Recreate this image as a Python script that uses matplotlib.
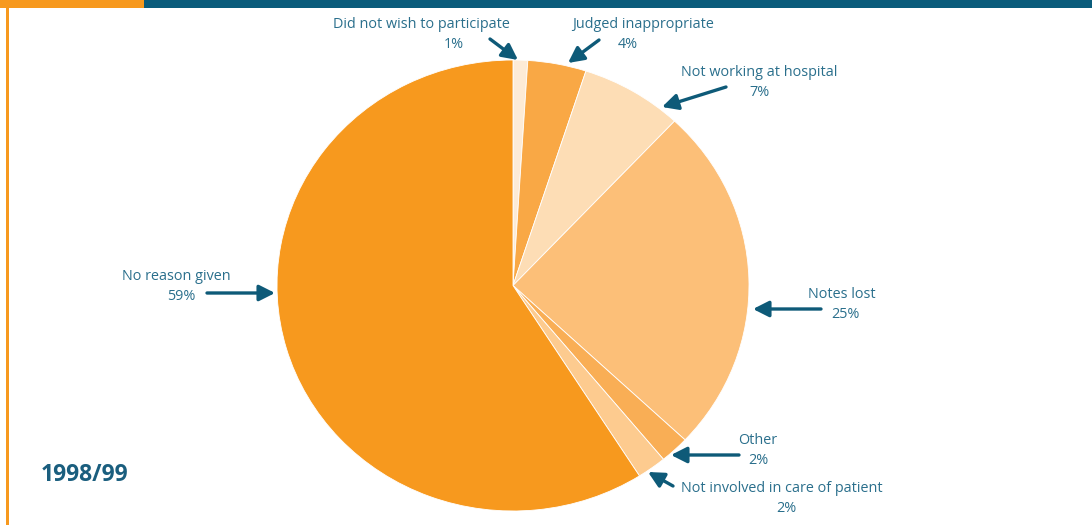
import matplotlib
matplotlib.use("Agg")
import matplotlib.pyplot as plt

plt.rcParams["font.family"] = ["Open Sans", "DejaVu Sans"]

# slices, clockwise from 12 o'clock
categories = [
    "Did not wish to participate",
    "Judged inappropriate",
    "Not working at hospital",
    "Notes lost",
    "Other",
    "Not involved in care of patient",
    "No reason given",
]
percent = [1, 4, 7, 25, 2, 2, 59]
colors = ["#FDEBD6", "#F9A845", "#FDDDB5", "#FCBF78", "#F9AE55", "#FDCB8F", "#F7991E"]

# label placement in pixels: (x, y of name line, x of pct line), arrow tail, arrow head
label_pos = [
    (421, 24, 454),
    (643, 24, 628),
    (759, 72, 760),
    (842, 294, 845),
    (758, 440, 758),
    (782, 488, 786),
    (176, 276, 181),
]
arrow_tail = [(490, 39), (599, 40), (726, 87), (821, 309), (739, 455), (673, 486), (207, 293)]
arrow_head = [(518, 60), (568, 63), (662, 107), (753, 309), (671, 455), (648, 472), (275, 293)]

TEXT = "#2A6F8C"
ARROW = "#0E5A78"
ORANGE = "#F7991E"
TEAL = "#0A5C7B"

W, H = 1092, 525
fig = plt.figure(figsize=(W / 100, H / 100), dpi=100)

# pie, slightly wider than tall as in the original
ax_pie = fig.add_axes([277 / W, (H - 511) / H, 472 / W, 451 / H])
ax_pie.pie(
    percent,
    colors=colors,
    startangle=90,
    counterclock=False,
    wedgeprops={"edgecolor": "white", "linewidth": 0.6},
)
ax_pie.set_aspect("auto")
ax_pie.set_xlim(-1, 1)
ax_pie.set_ylim(-1, 1)
ax_pie.axis("off")

# overlay in pixel coords for decoration, labels and arrows
ax = fig.add_axes([0, 0, 1, 1])
ax.set_xlim(0, W)
ax.set_ylim(H, 0)
ax.axis("off")
ax.patch.set_alpha(0)

ax.add_patch(plt.Rectangle((0, 0), 144, 8, color=ORANGE, lw=0))
ax.add_patch(plt.Rectangle((144, 0), W - 144, 8, color=TEAL, lw=0))
ax.add_patch(plt.Rectangle((6, 8), 2.5, H - 8, color=ORANGE, lw=0))

for name, pct, (x1, y1, x2), tail, head in zip(categories, percent, label_pos, arrow_tail, arrow_head):
    ax.text(x1, y1, name, ha="center", va="center", fontsize=10.4, color=TEXT)
    ax.text(x2, y1 + 20, f"{pct}%", ha="center", va="center", fontsize=10.4, color=TEXT)
    ax.annotate(
        "",
        xy=head,
        xytext=tail,
        arrowprops=dict(arrowstyle="-|>,head_length=0.95,head_width=0.48", color=ARROW, lw=2.4,
                        shrinkA=0, shrinkB=0),
    )

ax.text(41, 475, "1998/99", ha="left", va="center", fontsize=16.5, fontweight="bold", color="#1A5E7E")

fig.savefig("out.png", dpi=100)
